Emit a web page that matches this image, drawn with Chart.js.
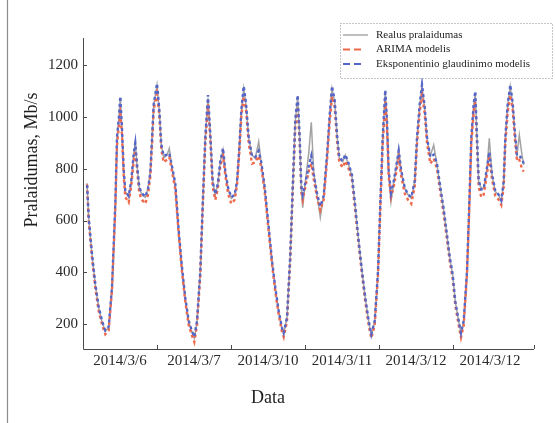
<!DOCTYPE html>
<html>
<head>
<meta charset="utf-8">
<script src="https://cdn.jsdelivr.net/npm/chart.js@4.4.1/dist/chart.umd.min.js"></script>
<style>
  html, body { margin: 0; padding: 0; background: #ffffff; }
  #wrap { position: relative; width: 555px; height: 423px; }
  canvas { display: block; }
</style>
</head>
<body>
<div id="wrap"><canvas id="c" width="555" height="423"></canvas></div>
<script>
// Time of each sample, hours since the start of 2014/3/6
const hours = [
  1.30, 1.85, 2.92, 3.99, 5.09, 6.16, 7.23, 8.34, 9.41, 10.48,
  11.03, 11.58, 12.10, 12.65, 13.20, 13.72, 14.82, 15.66, 16.44, 16.96,
  17.51, 18.26, 19.14, 20.21, 21.08, 21.83, 22.38, 22.93, 24.00, 24.75,
  25.39, 26.17, 27.24, 27.99, 28.86, 29.94, 31.04, 32.11, 33.18, 34.28,
  35.35, 36.10, 36.97, 38.04, 38.82, 39.66, 40.54, 41.29, 42.06, 42.91,
  43.69, 44.53, 45.41, 46.15, 47.03, 48.10, 49.20, 49.95, 50.69, 51.34,
  52.12, 52.86, 53.74, 54.81, 55.88, 56.98, 57.83, 58.93, 60.23, 61.30,
  62.37, 63.47, 64.54, 65.09, 66.16, 67.23, 68.01, 68.85, 69.63, 70.28,
  70.80, 71.25, 72.10, 73.20, 74.04, 74.82, 75.89, 76.96, 78.06, 79.14,
  80.01, 80.76, 81.63, 82.38, 83.12, 84.23, 85.07, 86.17, 87.24, 88.31,
  89.42, 90.49, 91.56, 92.66, 93.50, 94.61, 95.68, 96.42, 97.20, 98.04,
  98.59, 99.14, 99.89, 100.77, 101.51, 102.39, 103.23, 104.33, 105.41, 106.47,
  107.58, 108.32, 109.20, 109.95, 110.82, 111.57, 112.64, 113.74, 114.81, 115.88,
  116.98, 118.05, 119.03, 119.90, 120.74, 121.85, 122.59, 123.47, 124.54, 125.28,
  125.93, 126.71, 127.23, 127.78, 128.33, 129.18, 129.95, 131.03, 131.77, 132.65,
  133.72, 134.82, 135.66, 136.44, 136.96, 137.74, 138.58, 139.36, 140.01, 140.76,
  141.50, 142.38, 142.93
];

// Measured throughput, Mb/s
const realus = [
  744, 609, 467, 351, 262, 209, 172, 185, 339, 660,
  919, 983, 1075, 944, 789, 712, 690, 750, 853, 905,
  815, 725, 700, 690, 725, 789, 918, 1047, 1124, 1021,
  892, 842, 853, 879, 805, 740, 557, 415, 299, 209,
  170, 145, 209, 402, 660, 918, 1075, 931, 750, 699,
  738, 828, 873, 789, 725, 686, 699, 750, 879, 1021,
  1111, 1047, 918, 853, 841, 905, 820, 725, 570, 441,
  338, 248, 183, 164, 222, 467, 725, 983, 1079, 918,
  725, 650, 750, 860, 980, 790, 699, 612, 699, 853,
  1008, 1110, 1060, 931, 841, 828, 853, 815, 770, 650,
  518, 402, 299, 209, 157, 209, 402, 660, 918, 1099,
  983, 789, 673, 750, 802, 873, 789, 725, 699, 686,
  750, 918, 1047, 1118, 1034, 918, 850, 892, 815, 725,
  640, 540, 450, 390, 286, 209, 164, 209, 402, 660,
  918, 1047, 1092, 918, 750, 725, 725, 802, 918, 776,
  712, 699, 673, 750, 918, 1047, 1118, 1047, 944, 853,
  931, 853, 815
];

// ARIMA model forecast, Mb/s
const arima = [
  740, 600, 455, 340, 250, 198, 160, 175, 330, 640,
  890, 960, 1010, 930, 770, 690, 670, 735, 830, 870,
  800, 705, 680, 665, 700, 770, 890, 1030, 1090, 1010,
  875, 825, 835, 845, 790, 720, 545, 400, 285, 195,
  155, 130, 195, 390, 645, 900, 1050, 915, 730, 680,
  720, 810, 850, 775, 705, 665, 680, 735, 860, 1000,
  1080, 1030, 900, 820, 825, 850, 805, 710, 555, 430,
  325, 235, 170, 150, 210, 450, 705, 960, 1040, 900,
  710, 680, 730, 790, 820, 760, 690, 640, 680, 830,
  980, 1080, 1040, 910, 825, 805, 830, 800, 755, 635,
  505, 390, 285, 195, 145, 195, 390, 640, 895, 1060,
  960, 770, 690, 730, 780, 845, 770, 705, 680, 665,
  730, 895, 1020, 1085, 1015, 900, 820, 840, 800, 710,
  625, 525, 435, 375, 272, 195, 148, 195, 390, 640,
  895, 1020, 1060, 900, 730, 690, 700, 780, 850, 760,
  695, 680, 660, 730, 895, 1020, 1085, 1030, 925, 830,
  835, 800, 789
];

// Exponential smoothing model forecast, Mb/s
const eksp = [
  748, 612, 470, 355, 265, 212, 175, 190, 345, 665,
  925, 990, 1080, 955, 795, 715, 695, 755, 858, 900,
  820, 728, 705, 692, 722, 785, 915, 1050, 1130, 1030,
  895, 850, 855, 860, 810, 742, 560, 418, 300, 212,
  172, 150, 212, 405, 662, 922, 1085, 935, 752, 702,
  740, 830, 880, 792, 728, 690, 700, 752, 882, 1025,
  1120, 1055, 922, 850, 845, 870, 825, 730, 575, 445,
  340, 250, 185, 165, 225, 470, 730, 990, 1085, 925,
  735, 700, 745, 810, 850, 780, 705, 655, 695, 855,
  1010, 1120, 1065, 935, 845, 830, 855, 820, 775, 655,
  520, 405, 300, 212, 160, 212, 405, 665, 922, 1105,
  990, 795, 705, 752, 805, 870, 792, 728, 700, 690,
  752, 920, 1050, 1125, 1040, 922, 845, 855, 820, 730,
  645, 545, 452, 392, 288, 212, 165, 212, 405, 665,
  920, 1050, 1100, 925, 755, 720, 722, 805, 865, 780,
  715, 700, 678, 752, 920, 1050, 1125, 1055, 950, 850,
  850, 840, 820
];

// Day labels, one per day interval on the time axis
const dienos = ['2014/3/6', '2014/3/7', '2014/3/10', '2014/3/11', '2014/3/12', '2014/3/12'];
const dienuRibos = [0, 24, 48, 72, 96, 120];
const yZymes = [200, 400, 600, 800, 1000, 1200];

const serif = '"Liberation Serif", "Times New Roman", serif';
const X_MAX = 146.27;

function taskai(vals) {
  return hours.map((h, i) => ({ x: h, y: vals[i] }));
}

// Axes, inward tick marks, titles, legend and frame
const apipavidalinimas = {
  id: 'apipavidalinimas',
  afterDraw(chart) {
    const ctx = chart.ctx;
    const a = chart.chartArea;
    const xs = chart.scales.x;
    const ys = chart.scales.y;
    ctx.save();

    // outer frame line on the left
    ctx.strokeStyle = '#8c8c8c';
    ctx.lineWidth = 1.2;
    ctx.beginPath();
    ctx.moveTo(7.5, 0);
    ctx.lineTo(7.5, 423);
    ctx.stroke();

    // axis lines
    ctx.strokeStyle = '#4a4a4a';
    ctx.lineWidth = 1;
    ctx.beginPath();
    ctx.moveTo(a.left + 0.5, a.top);
    ctx.lineTo(a.left + 0.5, a.bottom + 0.5);
    ctx.lineTo(a.right, a.bottom + 0.5);
    ctx.stroke();

    // inward ticks
    ctx.beginPath();
    yZymes.forEach(v => {
      const y = Math.round(ys.getPixelForValue(v)) + 0.5;
      ctx.moveTo(a.left, y);
      ctx.lineTo(a.left + 4, y);
    });
    dienuRibos.concat([X_MAX]).forEach(v => {
      const x = Math.round(xs.getPixelForValue(v)) + 0.5;
      ctx.moveTo(x, a.bottom);
      ctx.lineTo(x, a.bottom - 4);
    });
    ctx.stroke();

    // axis titles
    ctx.fillStyle = '#1e1e1e';
    ctx.font = '18px ' + serif;
    ctx.textAlign = 'center';
    ctx.textBaseline = 'middle';
    ctx.fillText(xs.options.title.text, 268, 398);
    ctx.save();
    ctx.translate(32, 160);
    ctx.rotate(-Math.PI / 2);
    ctx.fillText(ys.options.title.text, 0, 0);
    ctx.restore();

    // legend box
    const bx = 340, by = 23, bw = 212, bh = 55;
    ctx.fillStyle = '#ffffff';
    ctx.fillRect(bx, by, bw, bh);
    ctx.strokeStyle = '#8a8a8a';
    ctx.lineWidth = 1;
    ctx.setLineDash([1, 2]);
    ctx.strokeRect(bx + 0.5, by + 0.5, bw, bh);
    ctx.setLineDash([]);

    const eil = [35, 49.5, 64];
    chart.data.datasets.forEach((ds, i) => {
      const y = eil[i];
      const dashed = !!ds.borderDash;
      ctx.strokeStyle = ds.borderColor;
      ctx.lineWidth = dashed ? 2 : 1.4;
      ctx.setLineDash(dashed ? [7, 4] : []);
      ctx.beginPath();
      ctx.moveTo(343, y);
      ctx.lineTo(dashed ? 361 : 368, y);
      ctx.stroke();
      ctx.setLineDash([]);
      ctx.fillStyle = '#1e1e1e';
      ctx.font = '11px ' + serif;
      ctx.textAlign = 'left';
      ctx.textBaseline = 'middle';
      ctx.fillText(ds.label, 376, y);
    });

    ctx.restore();
  }
};

new Chart(document.getElementById('c'), {
  type: 'line',
  data: {
    datasets: [
      {
        label: 'Realus pralaidumas',
        data: taskai(realus),
        borderColor: '#a3a3a3',
        borderWidth: 1.5,
        pointRadius: 0,
        tension: 0,
        order: 2
      },
      {
        label: 'ARIMA modelis',
        data: taskai(arima),
        borderColor: '#ef6a4c',
        borderWidth: 2.4,
        borderDash: [3, 3],
        pointRadius: 0,
        tension: 0,
        order: 1
      },
      {
        label: 'Eksponentinio glaudinimo modelis',
        data: taskai(eksp),
        borderColor: '#5566c8',
        borderWidth: 2.4,
        borderDash: [3, 3],
        borderDashOffset: 3,
        pointRadius: 0,
        tension: 0,
        order: 0
      }
    ]
  },
  options: {
    responsive: false,
    animation: false,
    devicePixelRatio: 1,
    layout: { padding: { left: 0, right: 21, top: 38, bottom: 0 } },
    plugins: {
      legend: { display: false },
      tooltip: { enabled: false }
    },
    scales: {
      x: {
        type: 'linear',
        min: 0,
        max: X_MAX,
        grid: { display: false, drawTicks: false },
        border: { display: false },
        title: { display: false, text: 'Data' },
        afterBuildTicks: s => { s.ticks = dienos.map((d, i) => ({ value: 12 + 24 * i })); },
        afterFit: s => { s.height = 74; },
        ticks: {
          autoSkip: false,
          maxRotation: 0,
          padding: 3,
          color: '#2a2a2a',
          font: { family: serif, size: 15 },
          callback: (v, i) => dienos[i]
        }
      },
      y: {
        min: 103,
        max: 1306,
        grid: { display: false, drawTicks: false },
        border: { display: false },
        title: { display: false, text: 'Pralaidumas, Mb/s' },
        afterBuildTicks: s => { s.ticks = yZymes.map(v => ({ value: v })); },
        afterFit: s => { s.width = 83; },
        ticks: {
          padding: 5,
          color: '#2a2a2a',
          font: { family: serif, size: 15 },
          callback: v => String(v)
        }
      }
    }
  },
  plugins: [apipavidalinimas]
});
</script>
</body>
</html>
